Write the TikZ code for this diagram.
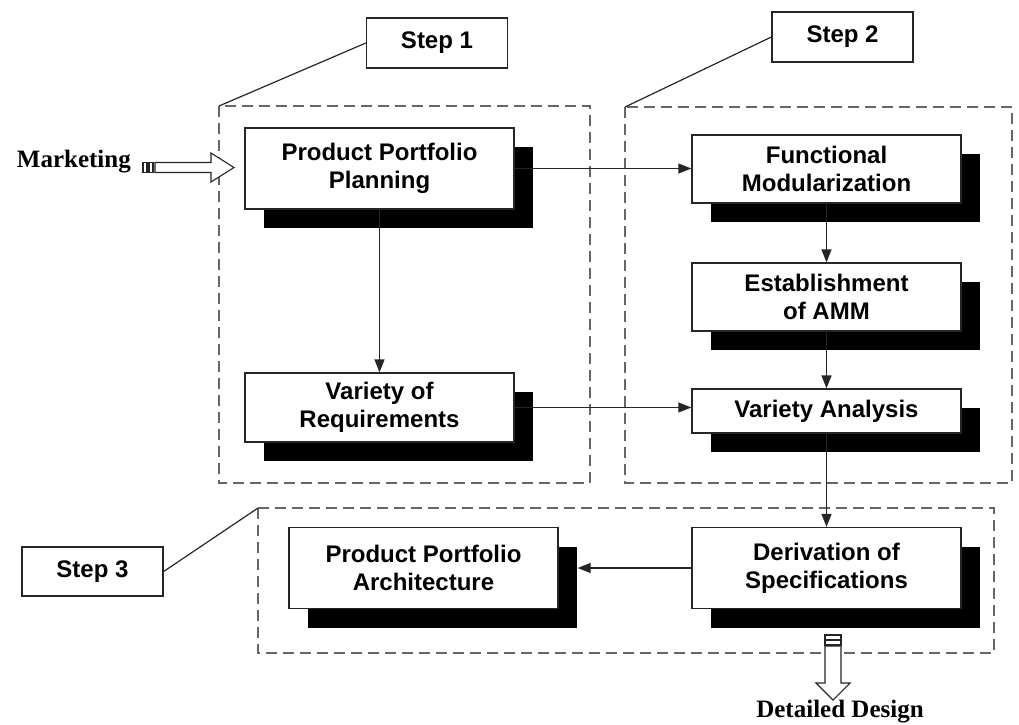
\documentclass[tikz,border=0pt]{standalone}
\usepackage{fontspec}
\setmainfont{Liberation Serif}
\setsansfont{Liberation Sans}
\usetikzlibrary{arrows.meta,shadows}
\begin{document}
\begin{tikzpicture}[x=1pt,y=-1pt,
 proc/.style={draw=black!85,line width=1.3pt,fill=white,align=center,inner sep=0pt,
   minimum width=269pt,font=\sffamily\bfseries\fontsize{24}{28}\selectfont,
   drop shadow={fill=black,opacity=1,shadow xshift=19pt,shadow yshift=-19pt}},
 stepbox/.style={draw=black!85,line width=1.3pt,fill=white,minimum width=141pt,minimum height=50pt,
   inner sep=0pt,font=\sffamily\bfseries\fontsize{24}{28}\selectfont},
 region/.style={draw=black!60,dash pattern=on 11pt off 6pt,line width=1.3pt},
 conn/.style={draw=black!85,line width=1.4pt,-{Triangle[length=13pt,width=10pt]}},
 callout/.style={draw=black!85,line width=1.2pt},
 fat/.style={draw=black!85,line width=1.1pt,fill=white},
 serifbold/.style={font=\bfseries\fontsize{25}{28}\selectfont,inner sep=0pt}
]
\useasboundingbox (0,0) rectangle (1019,724);

% dashed regions
\coordinate (r1) at (219,106);
\coordinate (r2) at (625,107);
\coordinate (r3) at (258,508);
\draw[region] (r1) rectangle (590,483);
\draw[region] (r2) rectangle (1012,483);
\draw[region] (r3) rectangle (994,653);

% step labels
\node[stepbox] (s1) at (437,43) {Step 1};
\node[stepbox] (s2) at (842.5,37) {Step 2};
\node[stepbox,minimum height=49pt] (s3) at (92.5,571.5) {Step 3};
\draw[callout] (s1.west) -- (r1);
\draw[callout] (s2.west) -- (r2);
\draw[callout] (s3.east) -- (r3);

% process boxes
\node[proc,minimum height=81pt] (ppp) at (379.5,168.5) {Product Portfolio\\Planning};
\node[proc,minimum height=69pt] (vor) at (379.5,407.5) {Variety of\\Requirements};
\node[proc,minimum height=68pt] (fm) at (826.5,169) {Functional\\Modularization};
\node[proc,minimum height=68pt] (amm) at (826.5,297) {Establishment\\of AMM};
\node[proc,minimum height=44pt] (va) at (826.5,411) {Variety Analysis};
\node[proc,minimum height=81pt] (dos) at (826.5,568) {Derivation of\\Specifications};
\node[proc,minimum height=81pt] (ppa) at (423.5,568) {Product Portfolio\\Architecture};

% connectors
\draw[conn] (ppp.east) -- (ppp.east -| fm.west);
\draw[conn] (ppp.south) -- (vor.north);
\draw[conn] (fm.south) -- (amm.north);
\draw[conn] (amm.south) -- (va.north);
\draw[conn] (vor.east) -- (vor.east -| va.west);
\draw[conn] (va.south) -- (dos.north);
\draw[conn] (dos.west) -- ([xshift=19pt]ppa.east);

% Marketing input
\node[serifbold,anchor=base east] (mkt) at (131,167) {Marketing};
\draw[fat] (143,162.5) rectangle (147,172.5);
\draw[fat] (149,162.5) rectangle (153,172.5);
\draw[fat] (155,162.5) -- (211,162.5) -- (211,153) -- (234,167.5) -- (211,182)
  -- (211,172.5) -- (155,172.5) -- cycle;

% Detailed design output
\draw[fat] (825,635) rectangle (841,639.5);
\draw[fat] (825,640.5) rectangle (841,645);
\draw[fat] (825,646) -- (825,683) -- (816,683) -- (833,700) -- (850,683)
  -- (841,683) -- (841,646) -- cycle;
\node[serifbold,anchor=base] (dd) at (840,717) {Detailed Design};
\end{tikzpicture}
\end{document}
